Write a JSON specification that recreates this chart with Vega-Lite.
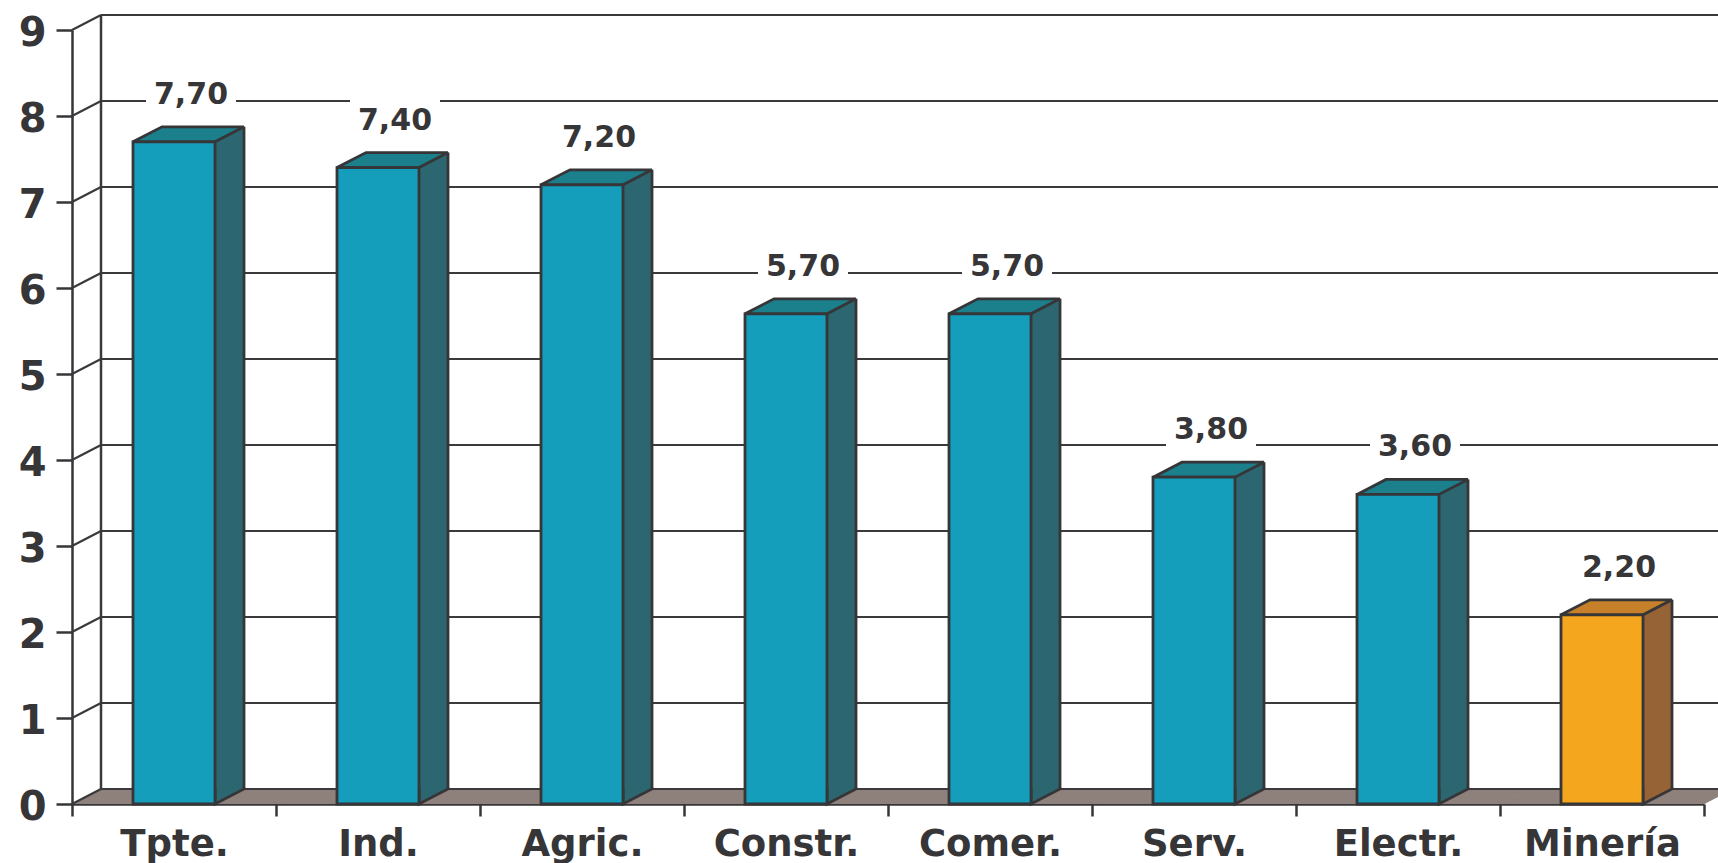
{
  "$schema": "https://vega.github.io/schema/vega-lite/v6.json",
  "autosize": {"type": "none"},
  "padding": {"left": 72, "top": 30, "right": 14, "bottom": 59},
  "width": 1632,
  "height": 774,
  "background": "#ffffff",
  "datasets": {
    "bars": [
      {"sector": "Tpte.", "value": 7.7},
      {"sector": "Ind.", "value": 7.4},
      {"sector": "Agric.", "value": 7.2},
      {"sector": "Constr.", "value": 5.7},
      {"sector": "Comer.", "value": 5.7},
      {"sector": "Serv.", "value": 3.8},
      {"sector": "Electr.", "value": 3.6},
      {"sector": "Minería", "value": 2.2}
    ],
    "ticks": [{"v": 0}, {"v": 1}, {"v": 2}, {"v": 3}, {"v": 4}, {"v": 5}, {"v": 6}, {"v": 7}, {"v": 8}, {"v": 9}]
  },
  "config": {
    "view": {"stroke": null},
    "locale": {"number": {"decimal": ",", "thousands": ".", "grouping": [3], "currency": ["", " €"]}},
    "axis": {
      "domainColor": "#363538", "domainWidth": 2.5,
      "tickColor": "#363538", "tickWidth": 2.5,
      "labelColor": "#363538", "labelFont": "DejaVu Sans", "labelFontWeight": "bold",
      "grid": false, "title": null, "zindex": 1
    },
    "axisX": {"labelFontSize": 37, "tickSize": 12, "labelPadding": 10, "tickBand": "extent", "labelAngle": 0},
    "axisY": {"labelFontSize": 40, "tickSize": 16, "labelPadding": 10, "tickCount": 9, "labelOffset": 3}
  },
  "layer": [
    {
      "data": {"name": "bars"},
      "mark": {"type": "point", "shape": "M -1 0 L 1 0 L 1.2829 -0.1463 L -0.7171 -0.1463 Z", "size": 42025, "filled": true, "fill": "#8E807B", "strokeWidth": 0, "opacity": 1},
      "encoding": {
        "x": {"field": "sector", "type": "nominal", "title": null, "scale": {"type": "band", "domain": ["Tpte.", "Ind.", "Agric.", "Constr.", "Comer.", "Serv.", "Electr.", "Minería"], "paddingInner": 0, "paddingOuter": 0}},
        "y": {"datum": 0, "type": "quantitative", "title": null, "scale": {"domain": [0, 9], "nice": false}}
      }
    },
    {
      "data": {"name": "ticks"},
      "mark": {"type": "rule", "stroke": "#3a3a3c", "strokeWidth": 2.2, "xOffset": 29, "x2Offset": 29, "yOffset": -15},
      "encoding": {
        "x": {"datum": "Tpte.", "bandPosition": 0},
        "x2": {"datum": "Minería", "bandPosition": 1},
        "y": {"field": "v", "type": "quantitative", "title": null, "scale": {"domain": [0, 9], "nice": false}}
      }
    },
    {
      "data": {"name": "ticks"},
      "mark": {"type": "rule", "stroke": "#3a3a3c", "strokeWidth": 2.2, "x2Offset": 29, "y2Offset": -15},
      "encoding": {
        "x": {"datum": "Tpte.", "bandPosition": 0},
        "x2": {"datum": "Tpte.", "bandPosition": 0},
        "y": {"field": "v", "type": "quantitative", "title": null, "scale": {"domain": [0, 9], "nice": false}},
        "y2": {"field": "v"}
      }
    },
    {
      "data": {"name": "ticks"},
      "transform": [{"filter": "datum.v === 9"}],
      "mark": {"type": "rule", "stroke": "#3a3a3c", "strokeWidth": 2.5, "xOffset": 29, "yOffset": -15, "y2Offset": -15},
      "encoding": {
        "x": {"datum": "Tpte.", "bandPosition": 0},
        "y": {"field": "v", "type": "quantitative", "title": null, "scale": {"domain": [0, 9], "nice": false}},
        "y2": {"datum": 0}
      }
    },
    {
      "data": {"name": "bars"},
      "mark": {"type": "bar", "width": 29, "xOffset": 55.5, "yOffset": -15, "y2Offset": -15, "strokeWidth": 0},
      "encoding": {
        "x": {"field": "sector", "type": "nominal", "title": null},
        "y": {"field": "value", "type": "quantitative", "title": null, "scale": {"domain": [0, 9], "nice": false}},
        "y2": {"datum": 0},
        "fill": {"condition": {"test": "datum.sector === 'Minería'", "value": "#956335"}, "value": "#2C6670"}
      }
    },
    {
      "data": {"name": "bars"},
      "mark": {"type": "point", "shape": "M 1 -0.4 L 1 0 L 1.7073 -0.3659 L 1.7073 -0.4", "size": 6724, "filled": true, "stroke": "#363538", "strokeWidth": 2.8, "opacity": 1},
      "encoding": {
        "x": {"field": "sector", "type": "nominal", "title": null},
        "y": {"datum": 0, "type": "quantitative"},
        "fill": {"condition": {"test": "datum.sector === 'Minería'", "value": "#956335"}, "value": "#2C6670"}
      }
    },
    {
      "data": {"name": "bars"},
      "mark": {"type": "rule", "stroke": "#363538", "strokeWidth": 2.8, "xOffset": 70, "yOffset": -15, "y2Offset": -15},
      "encoding": {
        "x": {"field": "sector", "type": "nominal", "title": null},
        "y": {"field": "value", "type": "quantitative", "title": null},
        "y2": {"datum": 0}
      }
    },
    {
      "data": {"name": "bars"},
      "mark": {"type": "point", "shape": "M -1 0 L 1 0 L 1.7073 -0.3659 L -0.2927 -0.3659 Z", "size": 6724, "filled": true, "stroke": "#363538", "strokeWidth": 2.8, "opacity": 1},
      "encoding": {
        "x": {"field": "sector", "type": "nominal", "title": null},
        "y": {"field": "value", "type": "quantitative", "title": null},
        "fill": {"condition": {"test": "datum.sector === 'Minería'", "value": "#C58029"}, "value": "#1B7F8C"}
      }
    },
    {
      "data": {"name": "bars"},
      "mark": {"type": "bar", "width": 82, "stroke": "#363538", "strokeWidth": 2.8},
      "encoding": {
        "x": {"field": "sector", "type": "nominal", "title": null},
        "y": {"field": "value", "type": "quantitative", "title": null},
        "y2": {"datum": 0},
        "fill": {"condition": {"test": "datum.sector === 'Minería'", "value": "#F5A61F"}, "value": "#149EBB"}
      }
    },
    {
      "data": {"name": "bars"},
      "mark": {"type": "point", "shape": "M -1 -0.4444 L 1 -0.4444 L 1 0.4444 L -1 0.4444 Z", "size": 8100, "filled": true, "fill": "#ffffff", "strokeWidth": 0, "opacity": 1, "xOffset": 17, "yOffset": -48.5},
      "encoding": {
        "x": {"field": "sector", "type": "nominal", "title": null},
        "y": {"field": "value", "type": "quantitative", "title": null}
      }
    },
    {
      "data": {"name": "bars"},
      "mark": {"type": "text", "font": "DejaVu Sans", "fontWeight": "bold", "fontSize": 30, "fill": "#363538", "baseline": "middle", "align": "center", "dx": 17, "dy": -47},
      "encoding": {
        "x": {"field": "sector", "type": "nominal", "title": null},
        "y": {"field": "value", "type": "quantitative", "title": null},
        "text": {"field": "value", "type": "quantitative", "format": ".2f"}
      }
    }
  ]
}
